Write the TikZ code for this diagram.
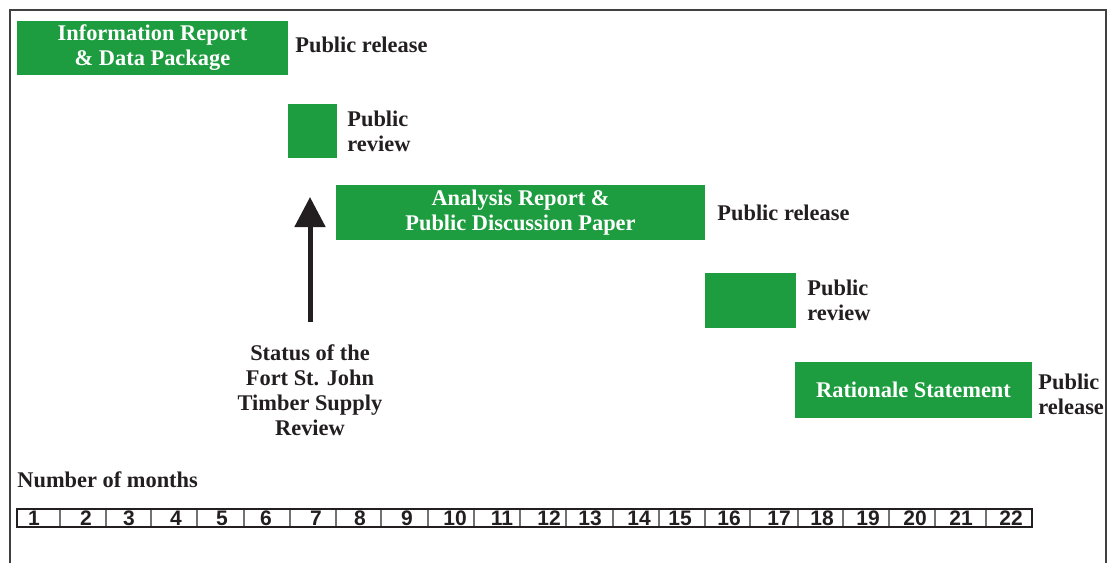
\documentclass[tikz,border=0pt]{standalone}
\usepackage{fontspec}
\setmainfont{Liberation Serif}
\setsansfont{Liberation Sans}
\usetikzlibrary{arrows.meta}
\definecolor{barg}{RGB}{30,157,64}
\definecolor{ink}{RGB}{35,31,32}

\begin{document}
\begin{tikzpicture}[x=0.5pt, y=-0.5pt,
  every node/.style={font=\bfseries\fontsize{11.2}{12.5}\selectfont, text=ink, inner sep=0pt, align=center},
  task/.style={fill=barg, text=white},
  lbl/.style={anchor=west, align=left},
  month/.style={font=\sffamily\bfseries\fontsize{10.5}{10.5}\selectfont}]
\useasboundingbox (0,0) rectangle (1114,563);
\draw[line width=1pt, black!75] (10,563) -- (10,10) -- (1106,10) -- (1106,563);
\node[task, minimum width=135.5pt, minimum height=27pt] (B1) at (152.5,48) {Information Report\\\& Data Package};
\node[task, minimum width=24.5pt, minimum height=27pt] (B2) at (312.5,131) {};
\node[task, minimum width=184.5pt, minimum height=27.5pt] (B3) at (520.5,212.5) {Analysis Report \&\\Public Discussion Paper};
\node[task, minimum width=45.5pt, minimum height=27.5pt] (B4) at (750.5,300.5) {};
\node[task, minimum width=118.5pt, minimum height=28pt] (B5) at (913.5,390) {Rationale Statement};
\node[lbl] (L1) at (295,45) {Public release};
\node[lbl] (L2) at (347,131) {Public\\review};
\node[lbl] (L3) at (717,213) {Public release};
\node[lbl] (L4) at (807,300) {Public\\review};
\node[lbl] (L5) at (1038,394) {Public\\release};
\node (S) at (310,390) {Status of the\\Fort St. John\\Timber Supply\\Review};
\coordinate (T) at (310,197);
\draw[-{Triangle[width=15pt,length=15pt]}, line width=2.5pt, ink, shorten <=11pt] (S.north) -- (T);
\node[lbl] (N) at (17,480) {Number of months};
\foreach \x in {60,106,151,197,244,290,336,381,428,474,520,566,613,659,705,750,798,843,889,935,986}
  \draw[black!55, line width=0.6pt] (\x,509) -- (\x,527);
\draw[ink, line width=0.8pt] (17,509) rectangle (1032,527);
\foreach \m/\x in {1/34,2/86,3/129,4/176,5/222,6/266,7/316,8/360,9/407,10/455,11/502,12/549,13/590,14/639,15/680,16/729,17/779,18/822,19/868,20/915,21/961,22/1011}
  \node[month] (M\m) at (\x,518) {\m};
\end{tikzpicture}
\end{document}
